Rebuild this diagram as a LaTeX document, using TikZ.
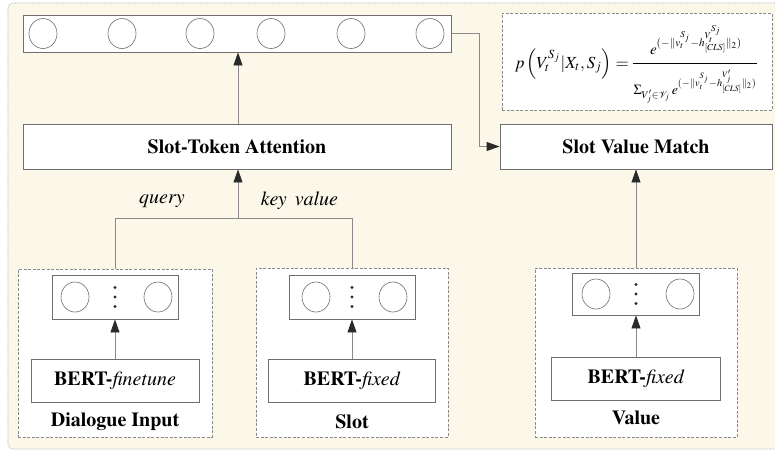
\documentclass[tikz,border=0pt]{standalone}
\usepackage[T1]{fontenc}
\usepackage{mathptmx}
\usepackage{amsmath}
\usepackage{graphicx}
\usetikzlibrary{arrows.meta,shapes.geometric}
\definecolor{cream}{HTML}{FBF8EA}
\definecolor{edge}{HTML}{6E6E6E}
\definecolor{lite}{HTML}{8A8A8A}
\definecolor{tip}{HTML}{2A2A2A}
\tikzset{
  box/.style={draw=edge, line width=0.9pt, fill=white, inner sep=0pt},
  grp/.style={draw=lite, line width=0.8pt, fill=white, dash pattern=on 3pt off 1.6pt, inner sep=0pt},
  cell/.style={draw=edge, line width=0.6pt, ellipse, minimum width=28pt, minimum height=30pt, inner sep=0pt},
  lab/.style={font=\fontsize{20}{24}\selectfont\bfseries, inner sep=0pt},
  ilab/.style={font=\fontsize{20}{24}\selectfont\itshape, inner sep=0pt},
  conn/.style={draw=lite, line width=0.9pt},
  arr/.style={conn, -{Triangle[length=13pt,width=9pt,fill=tip,color=tip]}},
  dotm/.style={circle, fill=tip, minimum size=3.4pt, inner sep=0pt},
  math/.style={inner sep=0pt},
}
\begin{document}
\begin{tikzpicture}[x=1pt,y=-1pt]
\useasboundingbox (0,0) rectangle (775,451);
\begin{scope}
\clip (0,0) rectangle (775,451);
\fill[cream, rounded corners=5pt] (8,3) rectangle (790,449);
\draw[draw=black!25, line width=0.6pt, dash pattern=on 2pt off 1pt, rounded corners=5pt] (8,3) rectangle (790,449);
\end{scope}

% top vector
\node[box, minimum width=428pt, minimum height=37pt] (topvec) at (237,33.5) {};
\foreach \i/\x in {1/43,2/122,3/200,4/271,5/351,6/430}
  \node[cell] (tc\i) at (\x,33.5) {};

% attention and match
\node[box, minimum width=428pt, minimum height=45pt, lab] (sta) at (237,146.5) {Slot-Token Attention};
\node[box, minimum width=272pt, minimum height=45pt, lab] (svm) at (636,146.5) {Slot Value Match};

% formula
\node[grp, minimum width=270pt, minimum height=97pt] (form) at (637,61.5) {};
\node[math, anchor=east] (fleft) at (629,64) {\resizebox{114pt}{!}{$p\left(V_t^{S_j}|X_t,S_j\right)=$}};
\coordinate (barl) at (633,63);
\coordinate (barr) at (757,63);
\draw[line width=0.7pt] (barl) -- (barr);
\node[math, anchor=south] (fnum) at (696,55) {\resizebox{92pt}{!}{$e^{(-\|v_t^{S_j}-h_{[CLS]}^{V_t^{S_j}}\|_2)}$}};
\node[math, anchor=north] (fden) at (695,70) {\resizebox{123pt}{!}{$\Sigma_{V'_j\in\mathcal{V}_j}\,e^{(-\|v_t^{S_j}-h_{[CLS]}^{V'_j}\|_2)}$}};

% groups
\node[grp, minimum width=194pt, minimum height=168pt] (gdial) at (115,353) {};
\node[grp, minimum width=192pt, minimum height=169pt] (gslot) at (352,352.5) {};
\node[grp, minimum width=202pt, minimum height=169pt] (gval) at (636,352.5) {};

% dialogue
\node[box, minimum width=126pt, minimum height=44pt] (vdial) at (115,297) {};
\node[cell] (dc1) at (75,297) {};
\node[cell] (dc2) at (158,297) {};
\node[dotm] (dd1) at (115,287.5) {};
\node[dotm] (dd2) at (115,297) {};
\node[dotm] (dd3) at (115,306.5) {};
\node[box, minimum width=168pt, minimum height=43pt, font=\fontsize{20}{24}\selectfont] (bdial) at (115,380.5) {\textbf{BERT-}\textit{finetune}};
\node[lab] (ldial) at (115,422) {Dialogue Input};

% slot
\node[box, minimum width=126pt, minimum height=44pt] (vslot) at (352,297) {};
\node[cell] (sc1) at (316,297) {};
\node[cell] (sc2) at (393,297) {};
\node[dotm] (sd1) at (352,287.5) {};
\node[dotm] (sd2) at (352,297) {};
\node[dotm] (sd3) at (352,306.5) {};
\node[box, minimum width=167pt, minimum height=43pt, font=\fontsize{20}{24}\selectfont] (bslot) at (352,380.5) {\textbf{BERT-}\textit{fixed}};
\node[lab] (lslot) at (352,422) {Slot};

% value
\node[box, minimum width=127pt, minimum height=42pt] (vval) at (636,294) {};
\node[cell] (vc1) at (596,294) {};
\node[cell] (vc2) at (680,294) {};
\node[dotm] (vd1) at (636,284.5) {};
\node[dotm] (vd2) at (636,294) {};
\node[dotm] (vd3) at (636,303.5) {};
\node[box, minimum width=169pt, minimum height=43pt, font=\fontsize{20}{24}\selectfont] (bval) at (636,378.5) {\textbf{BERT-}\textit{fixed}};
\node[lab] (lval) at (636,418) {Value};

% connectors
\coordinate (j) at (238,218);
\coordinate (tr) at (479,33.5);
\draw[conn] (gdial.north) |- (j);
\draw[conn] (gslot.north) |- (j);
\draw[arr] (j) -- (sta.south -| j);
\draw[arr] (sta.north -| j) -- (topvec.south -| j);
\draw[arr] (topvec.east) -- (tr) |- (svm.west);
\draw[arr] (gval.north) -- (svm.south -| gval.north);
\draw[arr] (bdial.north) -- (vdial.south);
\draw[arr] (bslot.north) -- (vslot.south);
\draw[arr] (bval.north) -- (vval.south);

\node[ilab] (q) at (162,201) {query};
\node[ilab] (kv) at (299.5,201) {key\hspace{8pt}value};
\end{tikzpicture}
\end{document}
